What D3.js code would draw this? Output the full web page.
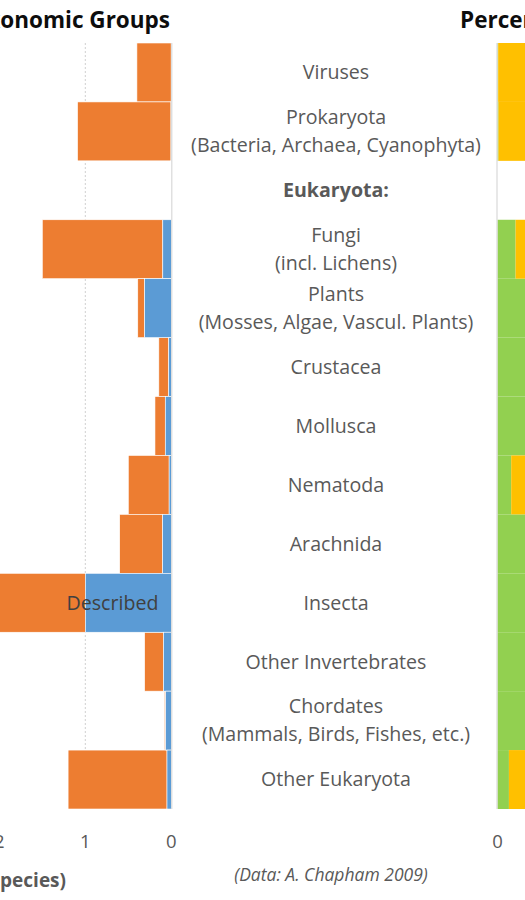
<!DOCTYPE html>
<html>
<head>
<meta charset="utf-8">
<script src="https://cdn.jsdelivr.net/npm/d3@7"></script>
<style>
    body { margin: 0; background: #fff; }
    svg text { font-family: 'Segoe UI', 'Open Sans', sans-serif; }
</style>
</head>
<body>
<div id="chart"></div>
<script>
// groups, top to bottom (Eukaryota is only a header row)
const groups = ['Viruses', 'Prokaryota', 'Eukaryota', 'Fungi', 'Plants', 'Crustacea', 'Mollusca',
    'Nematoda', 'Arachnida', 'Insecta', 'Other Invertebrates', 'Chordates', 'Other Eukaryota']
const labels = [
    ['Viruses'],
    ['Prokaryota', '(Bacteria, Archaea, Cyanophyta)'],
    ['Eukaryota:'],
    ['Fungi', '(incl. Lichens)'],
    ['Plants', '(Mosses, Algae, Vascul. Plants)'],
    ['Crustacea'],
    ['Mollusca'],
    ['Nematoda'],
    ['Arachnida'],
    ['Insecta'],
    ['Other Invertebrates'],
    ['Chordates', '(Mammals, Birds, Fishes, etc.)'],
    ['Other Eukaryota']
]
// millions of species
const described = [0.001, 0.004, null, 0.099, 0.31, 0.03, 0.07, 0.025, 0.1, 1.0, 0.09, 0.065, 0.05]
const estimated = [0.4, 1.09, null, 1.5, 0.39, 0.145, 0.19, 0.5, 0.6, 4.0, 0.31, 0.08, 1.2]
const countTicks = [0, 1, 2]
const pctTicks = [0]

const width = 525, height = 900
const textColor = '#595959'

const svg = d3.select('#chart').append('svg')
    .attr('width', width)
    .attr('height', height)

const y = d3.scaleBand()
    .domain(groups)
    .range([43, 809])
    .padding(0)

const xL = d3.scaleLinear()
    .domain([0, 2])
    .range([171.3, -0.7])

const xR = d3.scaleLinear()
    .domain([0, 100])
    .range([497.5, 771.5])

const rows = groups.map((g, i) => ({
    group: g,
    described: described[i],
    estimated: estimated[i],
    pct: described[i] == null ? null : described[i] / estimated[i] * 100
})).filter(d => d.described != null)

// dotted gridlines, left panel
svg.append('g')
    .selectAll('line')
    .data(countTicks.filter(t => t > 0))
    .join('line')
    .attr('x1', d => xL(d)).attr('x2', d => xL(d))
    .attr('y1', y.range()[0]).attr('y2', y.range()[1])
    .attr('stroke', '#d0d0d0')
    .attr('stroke-dasharray', '2,2')

// left panel: described + undescribed, growing to the left
const left = svg.append('g')
left.selectAll('rect.undesc')
    .data(rows)
    .join('rect')
    .attr('class', 'undesc')
    .attr('x', d => xL(d.estimated))
    .attr('y', d => y(d.group))
    .attr('width', d => xL(d.described) - xL(d.estimated))
    .attr('height', y.bandwidth())
    .attr('fill', '#ed7d31')
    .attr('stroke', '#fff')
    .attr('stroke-width', 0.6)

left.selectAll('rect.desc')
    .data(rows)
    .join('rect')
    .attr('class', 'desc')
    .attr('x', d => xL(d.described))
    .attr('y', d => y(d.group))
    .attr('width', d => xL(0) - xL(d.described))
    .attr('height', y.bandwidth())
    .attr('fill', '#5b9bd5')
    .attr('stroke', '#fff')
    .attr('stroke-width', 0.6)

// right panel: percent described vs undescribed
const right = svg.append('g')
right.selectAll('rect.pdesc')
    .data(rows)
    .join('rect')
    .attr('class', 'pdesc')
    .attr('x', xR(0))
    .attr('y', d => y(d.group))
    .attr('width', d => xR(d.pct) - xR(0))
    .attr('height', y.bandwidth())
    .attr('fill', '#92d050')

right.selectAll('rect.pundesc')
    .data(rows)
    .join('rect')
    .attr('class', 'pundesc')
    .attr('x', d => xR(d.pct))
    .attr('y', d => y(d.group))
    .attr('width', d => xR(100) - xR(d.pct))
    .attr('height', y.bandwidth())
    .attr('fill', '#ffc000')

// zero lines
svg.selectAll('line.zero')
    .data([xL(0) + 0.5, xR(0) - 0.5])
    .join('line')
    .attr('class', 'zero')
    .attr('x1', d => d).attr('x2', d => d)
    .attr('y1', y.range()[0]).attr('y2', y.range()[1])
    .attr('stroke', '#d9d9d9')
    .attr('stroke-width', 1.2)

// tick labels
svg.append('g')
    .selectAll('text')
    .data(countTicks)
    .join('text')
    .attr('x', d => xL(d))
    .attr('y', 848)
    .attr('text-anchor', 'middle')
    .attr('font-size', '18.5px')
    .attr('fill', textColor)
    .text(d => d)

svg.append('g')
    .selectAll('text')
    .data(pctTicks)
    .join('text')
    .attr('x', d => xR(d))
    .attr('y', 848)
    .attr('text-anchor', 'middle')
    .attr('font-size', '18.5px')
    .attr('fill', textColor)
    .text(d => d)

// group labels in the middle column
const lineH = 28
const lab = svg.append('g')
    .selectAll('text')
    .data(groups)
    .join('text')
    .attr('text-anchor', 'middle')
    .attr('font-size', '19.6px')
    .attr('font-weight', d => d === 'Eukaryota' ? 'bold' : 'normal')
    .attr('fill', textColor)

lab.each(function(g, i) {
    let lines = labels[i]
    let cy = y(g) + y.bandwidth() / 2
    d3.select(this).selectAll('tspan')
        .data(lines)
        .join('tspan')
        .attr('x', 336)
        .attr('y', (_, j) => cy + (j - (lines.length - 1) / 2) * lineH)
        .attr('dy', '0.35em')
        .text(d => d)
})

// "Described" tag on the insect bar
svg.append('text')
    .attr('x', xL(0.15))
    .attr('y', y('Insecta') + y.bandwidth() / 2)
    .attr('dy', '0.35em')
    .attr('text-anchor', 'end')
    .attr('font-size', '19.6px')
    .attr('fill', '#404040')
    .text('Described')

// titles
svg.append('text')
    .attr('x', 170)
    .attr('y', 28)
    .attr('text-anchor', 'end')
    .attr('font-size', '22.5px')
    .attr('font-weight', 'bold')
    .attr('fill', '#0d0d0d')
    .text('Number of Species in Taxonomic Groups')

svg.append('text')
    .attr('x', 460)
    .attr('y', 28)
    .attr('font-size', '22.5px')
    .attr('font-weight', 'bold')
    .attr('fill', '#0d0d0d')
    .text('Percentage Described')

svg.append('text')
    .attr('x', 66)
    .attr('y', 887)
    .attr('text-anchor', 'end')
    .attr('font-size', '19px')
    .attr('font-weight', 'bold')
    .attr('fill', textColor)
    .text('Estimated Number (Million Species)')

svg.append('text')
    .attr('x', 331)
    .attr('y', 881)
    .attr('text-anchor', 'middle')
    .attr('font-size', '17.5px')
    .attr('font-style', 'italic')
    .attr('fill', textColor)
    .text('(Data: A. Chapham 2009)')
</script>
</body>
</html>
